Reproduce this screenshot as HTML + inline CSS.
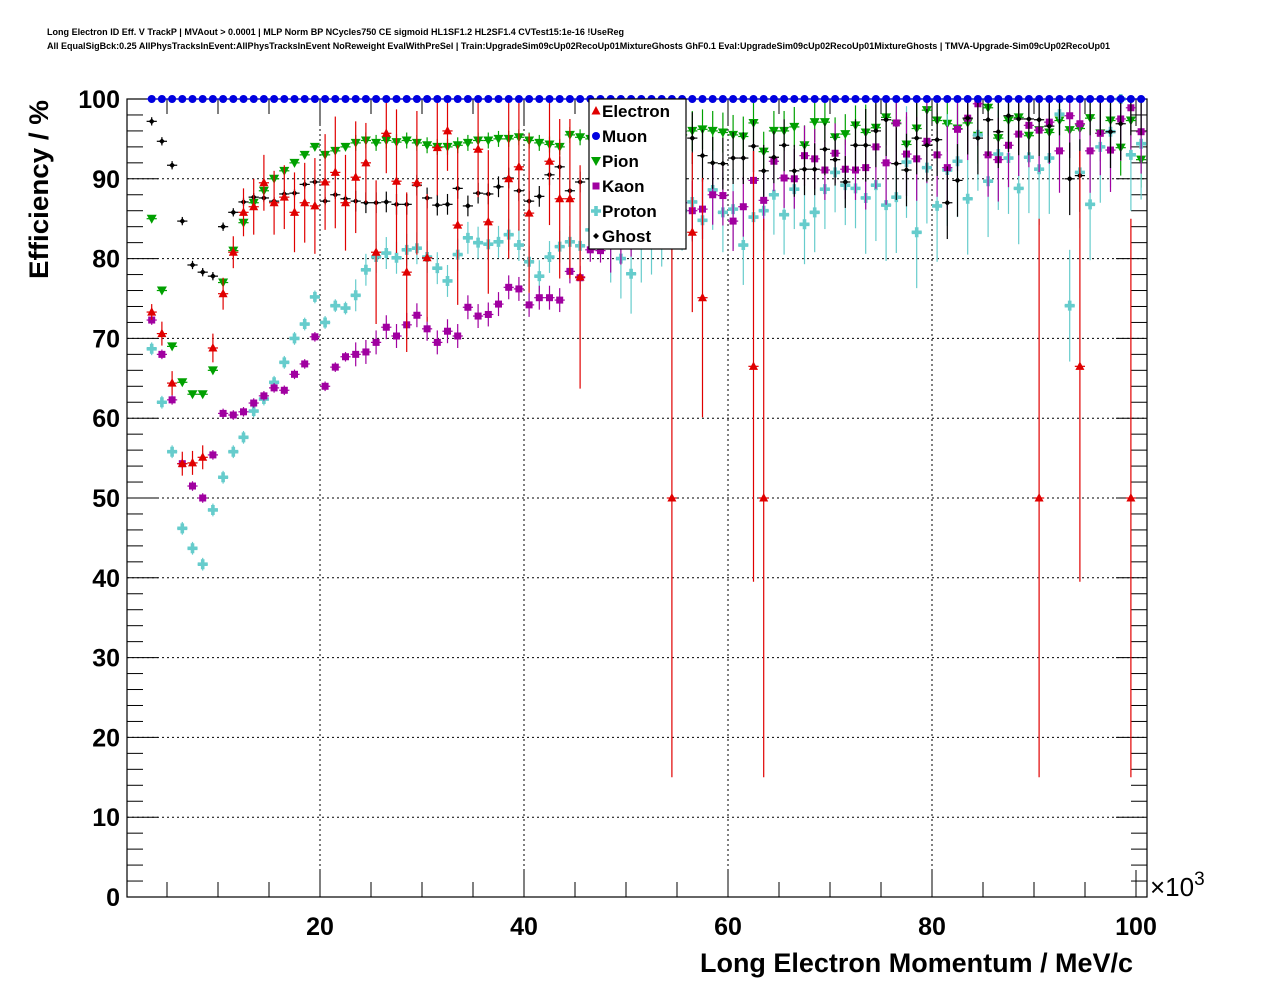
<!DOCTYPE html>
<html><head><meta charset="utf-8"><style>
body{margin:0;background:#fff;}
svg{display:block;font-family:"Liberation Sans",sans-serif;}
</style></head><body>
<svg id="chart" width="1276" height="996" viewBox="0 0 1276 996" xmlns="http://www.w3.org/2000/svg">
<rect x="0" y="0" width="1276" height="996" fill="#fff"/>
<text x="47" y="35" font-size="9.3" font-weight="bold" textLength="577" lengthAdjust="spacingAndGlyphs">Long Electron ID Eff. V TrackP | MVAout &gt; 0.0001 | MLP Norm BP NCycles750 CE sigmoid HL1SF1.2 HL2SF1.4 CVTest15:1e-16 !UseReg</text>
<text x="47" y="49" font-size="9.3" font-weight="bold" textLength="1063" lengthAdjust="spacingAndGlyphs">All EqualSigBck:0.25 AllPhysTracksInEvent:AllPhysTracksInEvent NoReweight EvalWithPreSel | Train:UpgradeSim09cUp02RecoUp01MixtureGhosts GhF0.1 Eval:UpgradeSim09cUp02RecoUp01MixtureGhosts | TMVA-Upgrade-Sim09cUp02RecoUp01</text>
<g id="grid"></g>
<g id="axes"></g>
<g id="marks"></g>
<text transform="translate(48,279) rotate(-90)" font-size="27" font-weight="bold" textLength="179" lengthAdjust="spacingAndGlyphs">Efficiency / %</text>
<text x="1133" y="972" text-anchor="end" font-size="27" font-weight="bold" textLength="433" lengthAdjust="spacingAndGlyphs">Long Electron Momentum / MeV/c</text>
<text x="1150" y="896" font-size="26">×10<tspan dy="-11" font-size="19">3</tspan></text>
<g id="legend"></g>
</svg>
<script>
const xTicks=[20,40,60,80,100];
const yTicks=[0,10,20,30,40,50,60,70,80,90,100];
const xStart=3.5;
const pion=[85,76,69,64.5,63,63,66,77,81,84.5,87,88.5,90,91,92,93,94,93,93.5,94,94.5,94.8,94.5,94.8,94.6,94.8,94.5,94.2,94,94,94.2,94.5,94.8,94.8,95,95,95.2,94.8,94.5,94.3,94,95.5,95.2,95,95.5,95.5,95.5,95.5,95.5,95.5,95.5,95.5,95.5,96,96.2,96,95.8,95.5,95.3,97,93.4,96,96,96.5,94.2,97.1,97.1,95.2,95.6,96.7,95.8,96.4,97.7,96.9,94.3,96.3,98.6,97.3,96.9,96.3,97,95.4,98.9,95.1,97.3,97.7,95.4,96.1,95.8,97.3,96.1,96.3,97.6,95.7,97.3,93.9,97.3,92.4];
const ghost=[97.2,94.7,91.7,84.7,79.2,78.3,77.8,84,85.8,87.1,87.7,87.6,87.2,88.1,88.2,89.3,89.6,87.2,88,87.5,87.2,87,87,87.1,86.8,86.8,89.2,87.6,86.7,86.8,88.8,86.6,88.2,88.1,89,90.1,88.5,87.2,87.8,90.5,91.5,88.5,89.6,90,90,90,90,90,90,90,90,90,90,95.1,92.9,92,91.9,92.6,92.6,94.1,91,92.7,94.2,91,91.2,91.2,93.7,92.4,89.6,94.2,94.2,96,97.4,91.9,91.1,95.1,94.2,94.9,87,89.8,97.6,95.1,97.4,95.9,97.9,97.5,97.5,97.4,96.6,100,90,90.4,100,100,95.9,96.9,100,100];
const kaon=[72.3,68,62.3,54.3,51.5,50,55.4,60.6,60.4,60.8,61.9,62.8,63.8,63.5,65.5,66.8,70.2,64,66.4,67.7,68,68.3,69.5,71.4,70.3,71.7,72.9,71.2,69.5,70.9,70.3,73.9,72.8,73,74.3,76.4,76.2,74.2,75.1,75.1,74.8,78.4,77.6,81.1,81,82,83,84,85,86,85,86,87,86,86.2,88,87.9,84.7,86.5,89.8,87.3,92.2,90.1,90,92.9,92.5,91.1,93.2,91.2,91.1,91.4,94,92,97,93.1,92.5,94.7,93,91.4,96.2,97.6,99.4,93,92.4,94.2,95.6,96.7,96.1,97.1,93.5,97.9,96.9,93.5,95.7,93.6,97.5,98.9,95.9];
const proton=[68.7,62,55.8,46.2,43.7,41.7,48.5,52.6,55.8,57.6,60.9,62.4,64.5,67,70,71.8,75.2,72,74.1,73.8,75.4,78.6,80.2,80.7,80.1,81.1,81.3,80.2,78.8,77.2,80.5,82.6,82,81.8,82.1,83,81.7,79.6,77.8,80.2,81.5,82.1,81.6,83.6,83,82,80,78.1,82,83,84,85,86,87.1,84.8,88.6,85.8,86.2,81.7,85.2,86,88,85.5,88.7,84.3,85.8,88.7,90.8,89.2,88.8,87.6,89.2,86.7,87.7,92.1,83.3,91.4,86.6,91.1,92.2,87.5,95.5,89.7,93.1,92.6,88.8,92.7,91.2,92.6,98.1,74.1,90.8,86.8,94,95.9,100,93,94.4];
const muon=[100,100,100,100,100,100,100,100,100,100,100,100,100,100,100,100,100,100,100,100,100,100,100,100,100,100,100,100,100,100,100,100,100,100,100,100,100,100,100,100,100,100,100,100,100,100,100,100,100,100,100,100,100,100,100,100,100,100,100,100,100,100,100,100,100,100,100,100,100,100,100,100,100,100,100,100,100,100,100,100,100,100,100,100,100,100,100,100,100,100,100,100,100,100,100,100,100,100];
const electron=[73.3,70.6,64.4,54.3,54.4,55.1,68.8,75.6,80.8,85.8,86.5,89.5,87,87.7,85.8,87,86.6,89.6,90.8,87,90.2,92,80.8,95.7,89.7,78.3,89.5,80.1,93.9,96,84.2,null,93.7,84.6,null,90,91.5,85.7,null,92.2,87.5,87.5,77.7,null,null,null,null,null,null,null,null,50,null,83.3,75.1,null,null,null,null,66.5,50,null,null,null,null,null,null,null,null,null,null,null,null,null,null,null,null,null,null,null,null,null,null,null,null,null,null,50,null,null,null,66.5,null,null,null,null,50,null];
const electronErr=[1,1.5,1.5,1.5,1.5,1.5,1.8,2,2,3,3.5,3.5,4,4,5,5,6,6,7,6,7,5,9,5,9,10,9,8,6,5,10,null,6,9,null,10,8,10,null,8,10,10,14,null,null,null,null,null,null,null,null,35,null,10,15,null,null,null,null,27,35,null,null,null,null,null,null,null,null,null,null,null,null,null,null,null,null,null,null,null,null,null,null,null,null,null,null,35,null,null,null,27,null,null,null,null,35,null];

const L=127,R=1147,T=99,B=897;
const X0=116, XS=10.2;
function xp(v){return X0+v*XS;}
function yp(v){return B-(B-T)*v/100;}
const NS="http://www.w3.org/2000/svg";
function mk(tag,attrs,parent){const e=document.createElementNS(NS,tag);for(const k in attrs)e.setAttribute(k,attrs[k]);parent.appendChild(e);return e;}
const grid=document.getElementById('grid'),axes=document.getElementById('axes'),marks=document.getElementById('marks'),legend=document.getElementById('legend');
xTicks.forEach(t=>{if(t<100){const l=mk('line',{x1:xp(t),x2:xp(t),y1:T,y2:B,stroke:'#000','stroke-dasharray':'2,3','stroke-width':1},grid);

}});
yTicks.forEach(t=>{if(t>0&&t<100){const l=mk('line',{x1:L,x2:R,y1:yp(t),y2:yp(t),stroke:'#000','stroke-dasharray':'2,3','stroke-width':1},grid);

}});
const fr=mk('rect',{x:L,y:T,width:R-L,height:B-T,fill:'none',stroke:'#000','stroke-width':1.2},axes);


for(let v=5;v<=100;v+=5){const major=v%20===0;const len=major?27:15;
mk('line',{x1:xp(v),x2:xp(v),y1:B,y2:B-len,stroke:'#000'},axes);
mk('line',{x1:xp(v),x2:xp(v),y1:T,y2:T+len,stroke:'#000'},axes);}
xTicks.forEach(t=>{const tx=mk('text',{x:xp(t),y:935,'text-anchor':'middle','font-size':25,'font-weight':'bold'},axes);tx.textContent=t;

});
for(let v=0;v<=100;v+=2){const major=v%10===0;const len=major?31:16;
mk('line',{x1:L,x2:L+len,y1:yp(v),y2:yp(v),stroke:'#000'},axes);
mk('line',{x1:R,x2:R-len,y1:yp(v),y2:yp(v),stroke:'#000'},axes);}
yTicks.forEach(t=>{const tx=mk('text',{x:120,y:yp(t)+9,'text-anchor':'end','font-size':25,'font-weight':'bold'},axes);tx.textContent=t;

});

function marker(kind,cx,cy,color,parent){
  if(kind==='tri-up') return mk('polygon',{points:`${cx},${cy-5} ${cx-4.5},${cy+3.5} ${cx+4.5},${cy+3.5}`,fill:color},parent);
  if(kind==='tri-down') return mk('polygon',{points:`${cx-5},${cy-4} ${cx+5},${cy-4} ${cx},${cy+5}`,fill:color},parent);
  if(kind==='circle') return mk('circle',{cx:cx,cy:cy,r:4,fill:color},parent);
  if(kind==='square') return mk('rect',{x:cx-3.5,y:cy-3.5,width:7,height:7,fill:color},parent);
  if(kind==='cross') return mk('path',{d:`M${cx-1.8},${cy-5}h3.6v3.2h3.2v3.6h-3.2v3.2h-3.6v-3.2h-3.2v-3.6h3.2z`,fill:color},parent);
  if(kind==='diamond') return mk('polygon',{points:`${cx},${cy-3} ${cx+3},${cy} ${cx},${cy+3} ${cx-3},${cy}`,fill:color},parent);
}
function errFor(i,scale){return scale*(i<20?0.4:(i<45?1.0:(i<70?2.5:3.5)));}
function drawSeries(name,vals,errs,scale,kind,color){
  const g=mk('g',{},marks);
  
  
  vals.forEach((v,i)=>{if(v===null)return;
    const xv=xStart+i, cx=xp(xv), cy=yp(v);
    const e=errs?errs[i]:errFor(i,scale);
    mk('line',{x1:xp(xv-0.5),x2:xp(xv+0.5),y1:cy,y2:cy,stroke:color,'stroke-width':1.2},g);
    if(e>0){mk('line',{x1:cx,x2:cx,y1:yp(Math.min(100,v+e)),y2:yp(Math.max(0,v-e)),stroke:color,'stroke-width':1.2},g);}
    const m=marker(kind,cx,cy,color,g);
    
    
  });
}
drawSeries('pion',pion,null,1,'tri-down','#00a000');
drawSeries('proton',proton,null,2,'cross','#66cccc');
drawSeries('kaon',kaon,null,1.5,'square','#a000a0');
drawSeries('ghost',ghost,null,1.3,'diamond','#000');
drawSeries('electron',electron,electronErr,1,'tri-up','#e00000');
drawSeries('muon',muon,null,0,'circle','#0000e0');
const lb=mk('rect',{x:589,y:99,width:97,height:150,fill:'#fff',stroke:'#000','stroke-width':1.2},legend);


const legNames=['Electron','Muon','Pion','Kaon','Proton','Ghost'];
const legKinds=['tri-up','circle','tri-down','square','cross','diamond'];
const legColors=['#e00000','#0000e0','#00a000','#a000a0','#66cccc','#000'];
legNames.forEach((n,k)=>{const y=111+k*25;
  const m=marker(legKinds[k],596,y,legColors[k],legend);
  
  
  const t=mk('text',{x:602,y:y+6,'font-size':17,'font-weight':'bold'},legend);t.textContent=n;
  
  
});
</script>
</body></html>
